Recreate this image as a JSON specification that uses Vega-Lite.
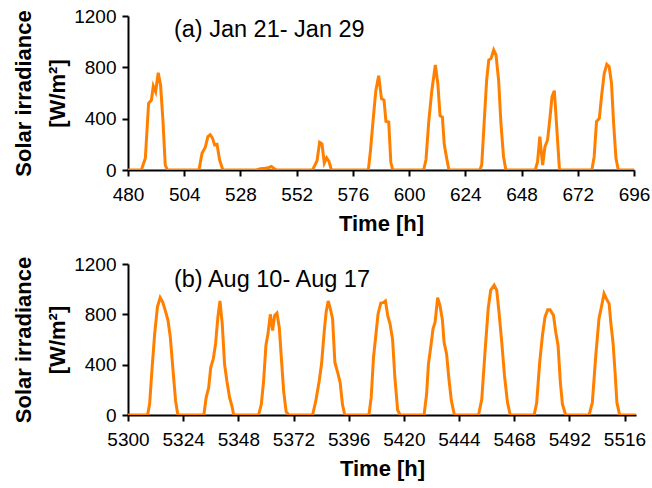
{
  "$schema": "https://vega.github.io/schema/vega-lite/v6.json",
  "padding": {"left": 12, "top": 7, "right": 5, "bottom": 5},
  "background": "white",
  "spacing": 21,
  "config": {
    "font": "Liberation Sans",
    "view": {"stroke": null},
    "axis": {
      "grid": false,
      "domainColor": "black",
      "domainWidth": 2,
      "tickColor": "black",
      "tickWidth": 2,
      "tickSize": 6,
      "labelFontSize": 19,
      "labelColor": "black",
      "labelPadding": 6,
      "labelFlush": false,
      "labelOverlap": false,
      "format": "d",
      "titleFontSize": 22,
      "titleFontWeight": "bold",
      "titleColor": "black",
      "titleLineHeight": 34
    },
    "axisX": {"labelPadding": 9, "titlePadding": 9}
  },
  "datasets": {
    "jan": [
      {"h": 480, "v": 0}, {"h": 485.7, "v": 0}, {"h": 487.4, "v": 91}, {"h": 488.8, "v": 520},
      {"h": 490.0, "v": 545}, {"h": 490.8, "v": 654}, {"h": 491.8, "v": 610}, {"h": 492.9, "v": 758},
      {"h": 493.9, "v": 662}, {"h": 494.9, "v": 390}, {"h": 495.9, "v": 39}, {"h": 496.8, "v": 0},
      {"h": 510.3, "v": 0}, {"h": 511.6, "v": 130}, {"h": 513.0, "v": 177}, {"h": 514.1, "v": 260},
      {"h": 515.1, "v": 275}, {"h": 516.1, "v": 247}, {"h": 517.0, "v": 195}, {"h": 518.0, "v": 200},
      {"h": 519.1, "v": 78}, {"h": 520.5, "v": 0},
      {"h": 534.8, "v": 0}, {"h": 536.5, "v": 10}, {"h": 538.5, "v": 13}, {"h": 540.0, "v": 18},
      {"h": 541.2, "v": 28}, {"h": 542.3, "v": 12}, {"h": 543.5, "v": 0},
      {"h": 558.8, "v": 0}, {"h": 560.7, "v": 72}, {"h": 561.8, "v": 215}, {"h": 562.8, "v": 203},
      {"h": 563.8, "v": 55}, {"h": 564.8, "v": 95}, {"h": 565.8, "v": 68}, {"h": 566.8, "v": 0},
      {"h": 582.6, "v": 0}, {"h": 583.5, "v": 150}, {"h": 584.6, "v": 380}, {"h": 585.8, "v": 620},
      {"h": 587.0, "v": 735}, {"h": 588.2, "v": 556}, {"h": 589.3, "v": 545}, {"h": 590.1, "v": 379},
      {"h": 591.3, "v": 374}, {"h": 592.2, "v": 60}, {"h": 593.0, "v": 0},
      {"h": 606.2, "v": 0}, {"h": 607.2, "v": 80}, {"h": 608.4, "v": 380}, {"h": 609.7, "v": 620},
      {"h": 611.2, "v": 818}, {"h": 612.3, "v": 665}, {"h": 613.2, "v": 423}, {"h": 614.2, "v": 412},
      {"h": 615.0, "v": 200}, {"h": 616.0, "v": 95}, {"h": 617.0, "v": 0},
      {"h": 630.2, "v": 0}, {"h": 631.0, "v": 40}, {"h": 632.1, "v": 390}, {"h": 633.1, "v": 700},
      {"h": 634.0, "v": 857}, {"h": 635.0, "v": 870}, {"h": 636.1, "v": 935}, {"h": 637.1, "v": 896},
      {"h": 638.2, "v": 701}, {"h": 639.2, "v": 364}, {"h": 640.3, "v": 104}, {"h": 641.3, "v": 0},
      {"h": 653.8, "v": 0}, {"h": 654.8, "v": 60}, {"h": 655.8, "v": 260}, {"h": 657.0, "v": 39},
      {"h": 658.0, "v": 182}, {"h": 659.1, "v": 234}, {"h": 660.2, "v": 420}, {"h": 661.0, "v": 571},
      {"h": 662.0, "v": 618}, {"h": 664.2, "v": 0},
      {"h": 678.0, "v": 0}, {"h": 679.0, "v": 104}, {"h": 680.0, "v": 377}, {"h": 681.2, "v": 403},
      {"h": 682.2, "v": 584}, {"h": 683.3, "v": 753}, {"h": 684.4, "v": 823}, {"h": 685.4, "v": 805},
      {"h": 686.4, "v": 675}, {"h": 687.3, "v": 364}, {"h": 688.3, "v": 91}, {"h": 689.3, "v": 0},
      {"h": 696, "v": 0}
    ],
    "aug": [
      {"h": 5300, "v": 0}, {"h": 5308.5, "v": 0}, {"h": 5309.4, "v": 85}, {"h": 5310.4, "v": 352},
      {"h": 5311.6, "v": 645}, {"h": 5312.8, "v": 858}, {"h": 5314.0, "v": 933}, {"h": 5315.1, "v": 898},
      {"h": 5316.2, "v": 832}, {"h": 5317.4, "v": 752}, {"h": 5318.4, "v": 620}, {"h": 5319.6, "v": 352},
      {"h": 5320.7, "v": 112}, {"h": 5321.7, "v": 0},
      {"h": 5333.0, "v": 0}, {"h": 5334.0, "v": 138}, {"h": 5335.1, "v": 218}, {"h": 5336.0, "v": 378},
      {"h": 5337.1, "v": 445}, {"h": 5338.1, "v": 565}, {"h": 5339.1, "v": 778}, {"h": 5340.0, "v": 906},
      {"h": 5341.0, "v": 725}, {"h": 5342.0, "v": 405}, {"h": 5343.0, "v": 272}, {"h": 5344.2, "v": 138},
      {"h": 5345.2, "v": 72}, {"h": 5346.0, "v": 0},
      {"h": 5356.8, "v": 0}, {"h": 5358.0, "v": 85}, {"h": 5359.0, "v": 272}, {"h": 5360.0, "v": 552},
      {"h": 5360.9, "v": 645}, {"h": 5361.9, "v": 800}, {"h": 5362.9, "v": 672}, {"h": 5363.8, "v": 792},
      {"h": 5364.8, "v": 810}, {"h": 5365.8, "v": 698}, {"h": 5366.7, "v": 458}, {"h": 5367.7, "v": 192},
      {"h": 5368.8, "v": 27}, {"h": 5370.0, "v": 0},
      {"h": 5380.3, "v": 0}, {"h": 5381.7, "v": 112}, {"h": 5383.2, "v": 272}, {"h": 5384.2, "v": 405},
      {"h": 5385.4, "v": 672}, {"h": 5386.2, "v": 818}, {"h": 5387.1, "v": 906}, {"h": 5388.0, "v": 845},
      {"h": 5389.0, "v": 765}, {"h": 5390.0, "v": 418}, {"h": 5391.2, "v": 338}, {"h": 5392.3, "v": 258},
      {"h": 5393.3, "v": 85}, {"h": 5394.3, "v": 0},
      {"h": 5404.8, "v": 0}, {"h": 5405.8, "v": 140}, {"h": 5406.8, "v": 458}, {"h": 5407.8, "v": 630},
      {"h": 5408.8, "v": 805}, {"h": 5410.0, "v": 890}, {"h": 5411.0, "v": 893}, {"h": 5412.0, "v": 906},
      {"h": 5413.0, "v": 790}, {"h": 5414.0, "v": 725}, {"h": 5415.1, "v": 600}, {"h": 5416.1, "v": 298},
      {"h": 5417.3, "v": 40}, {"h": 5418.4, "v": 0},
      {"h": 5428.8, "v": 0}, {"h": 5429.9, "v": 165}, {"h": 5430.7, "v": 405}, {"h": 5431.7, "v": 538},
      {"h": 5432.7, "v": 685}, {"h": 5433.6, "v": 738}, {"h": 5434.7, "v": 933}, {"h": 5435.7, "v": 872},
      {"h": 5436.8, "v": 752}, {"h": 5437.5, "v": 578}, {"h": 5438.6, "v": 485}, {"h": 5439.7, "v": 272},
      {"h": 5440.7, "v": 112}, {"h": 5442.0, "v": 0},
      {"h": 5452.5, "v": 0}, {"h": 5453.9, "v": 125}, {"h": 5455.3, "v": 498}, {"h": 5456.7, "v": 845},
      {"h": 5457.8, "v": 992}, {"h": 5459.3, "v": 1032}, {"h": 5460.4, "v": 992}, {"h": 5461.4, "v": 818},
      {"h": 5462.6, "v": 578}, {"h": 5463.8, "v": 312}, {"h": 5465.1, "v": 98}, {"h": 5466.3, "v": 0},
      {"h": 5476.7, "v": 0}, {"h": 5477.8, "v": 98}, {"h": 5479.1, "v": 418}, {"h": 5480.3, "v": 632},
      {"h": 5481.4, "v": 778}, {"h": 5482.6, "v": 837}, {"h": 5483.6, "v": 837}, {"h": 5485.1, "v": 792},
      {"h": 5486.1, "v": 658}, {"h": 5487.1, "v": 552}, {"h": 5488.1, "v": 258}, {"h": 5489.0, "v": 85},
      {"h": 5490.4, "v": 0},
      {"h": 5500.6, "v": 0}, {"h": 5502.0, "v": 98}, {"h": 5503.5, "v": 472}, {"h": 5504.9, "v": 765},
      {"h": 5506.1, "v": 872}, {"h": 5507.1, "v": 965}, {"h": 5508.1, "v": 925}, {"h": 5509.3, "v": 885},
      {"h": 5510.1, "v": 725}, {"h": 5511.0, "v": 578}, {"h": 5511.9, "v": 338}, {"h": 5512.7, "v": 98},
      {"h": 5513.9, "v": 0}, {"h": 5521, "v": 0}
    ],
    "labels_a": [{"h": 499.6, "v": 1091, "label": "(a) Jan 21- Jan 29"}],
    "labels_b": [{"h": 5320, "v": 1073, "label": "(b) Aug 10- Aug 17"}]
  },
  "vconcat": [
    {
      "width": 506,
      "height": 154,
      "layer": [
        {
          "data": {"name": "jan"},
          "mark": {"type": "line", "color": "#ff8000", "strokeWidth": 3, "clip": true},
          "encoding": {
            "x": {
              "field": "h", "type": "quantitative",
              "scale": {"domain": [480, 696], "nice": false, "zero": false},
              "axis": {"values": [480, 504, 528, 552, 576, 600, 624, 648, 672, 696], "title": "Time [h]"}
            },
            "y": {
              "field": "v", "type": "quantitative",
              "scale": {"domain": [0, 1200], "nice": false},
              "axis": {"values": [0, 400, 800, 1200], "title": ["Solar irradiance", "[W/m²]"]}
            }
          }
        },
        {
          "data": {"name": "labels_a"},
          "mark": {"type": "text", "align": "left", "baseline": "middle", "fontSize": 23.5, "color": "black"},
          "encoding": {
            "x": {"field": "h", "type": "quantitative"},
            "y": {"field": "v", "type": "quantitative"},
            "text": {"field": "label"}
          }
        }
      ]
    },
    {
      "width": 508,
      "height": 151,
      "layer": [
        {
          "data": {"name": "aug"},
          "mark": {"type": "line", "color": "#ff8000", "strokeWidth": 3, "clip": true},
          "encoding": {
            "x": {
              "field": "h", "type": "quantitative",
              "scale": {"domain": [5300, 5521], "nice": false, "zero": false},
              "axis": {"values": [5300, 5324, 5348, 5372, 5396, 5420, 5444, 5468, 5492, 5516], "title": "Time [h]"}
            },
            "y": {
              "field": "v", "type": "quantitative",
              "scale": {"domain": [0, 1200], "nice": false},
              "axis": {"values": [0, 400, 800, 1200], "title": ["Solar irradiance", "[W/m²]"]}
            }
          }
        },
        {
          "data": {"name": "labels_b"},
          "mark": {"type": "text", "align": "left", "baseline": "middle", "fontSize": 23.5, "color": "black"},
          "encoding": {
            "x": {"field": "h", "type": "quantitative"},
            "y": {"field": "v", "type": "quantitative"},
            "text": {"field": "label"}
          }
        }
      ]
    }
  ]
}
